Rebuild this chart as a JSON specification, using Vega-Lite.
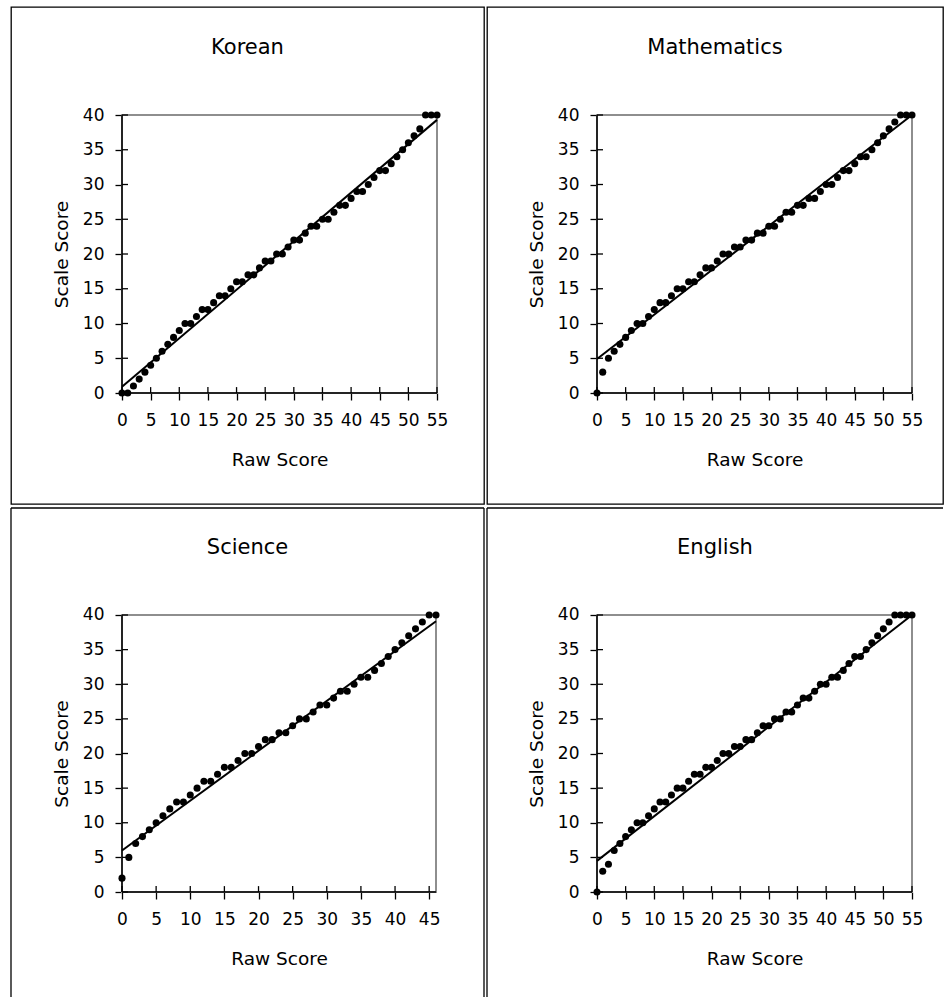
{
"$schema": "https://vega.github.io/schema/vega-lite/v6.json",
"padding": {"left": 10, "top": 6, "right": 8, "bottom": 0},
"bounds": "flush",
"columns": 2,
"spacing": {"row": 4, "column": 3},
"datasets": {
"pts": [
{"subject":"Korean","raw":0,"scale":0},{"subject":"Korean","raw":1,"scale":0},{"subject":"Korean","raw":2,"scale":1},{"subject":"Korean","raw":3,"scale":2},{"subject":"Korean","raw":4,"scale":3},{"subject":"Korean","raw":5,"scale":4},{"subject":"Korean","raw":6,"scale":5},{"subject":"Korean","raw":7,"scale":6},{"subject":"Korean","raw":8,"scale":7},{"subject":"Korean","raw":9,"scale":8},{"subject":"Korean","raw":10,"scale":9},{"subject":"Korean","raw":11,"scale":10},{"subject":"Korean","raw":12,"scale":10},{"subject":"Korean","raw":13,"scale":11},{"subject":"Korean","raw":14,"scale":12},{"subject":"Korean","raw":15,"scale":12},{"subject":"Korean","raw":16,"scale":13},{"subject":"Korean","raw":17,"scale":14},{"subject":"Korean","raw":18,"scale":14},{"subject":"Korean","raw":19,"scale":15},{"subject":"Korean","raw":20,"scale":16},{"subject":"Korean","raw":21,"scale":16},{"subject":"Korean","raw":22,"scale":17},{"subject":"Korean","raw":23,"scale":17},{"subject":"Korean","raw":24,"scale":18},{"subject":"Korean","raw":25,"scale":19},{"subject":"Korean","raw":26,"scale":19},{"subject":"Korean","raw":27,"scale":20},{"subject":"Korean","raw":28,"scale":20},{"subject":"Korean","raw":29,"scale":21},{"subject":"Korean","raw":30,"scale":22},{"subject":"Korean","raw":31,"scale":22},{"subject":"Korean","raw":32,"scale":23},{"subject":"Korean","raw":33,"scale":24},{"subject":"Korean","raw":34,"scale":24},{"subject":"Korean","raw":35,"scale":25},{"subject":"Korean","raw":36,"scale":25},{"subject":"Korean","raw":37,"scale":26},{"subject":"Korean","raw":38,"scale":27},{"subject":"Korean","raw":39,"scale":27},{"subject":"Korean","raw":40,"scale":28},{"subject":"Korean","raw":41,"scale":29},{"subject":"Korean","raw":42,"scale":29},{"subject":"Korean","raw":43,"scale":30},{"subject":"Korean","raw":44,"scale":31},{"subject":"Korean","raw":45,"scale":32},{"subject":"Korean","raw":46,"scale":32},{"subject":"Korean","raw":47,"scale":33},{"subject":"Korean","raw":48,"scale":34},{"subject":"Korean","raw":49,"scale":35},{"subject":"Korean","raw":50,"scale":36},{"subject":"Korean","raw":51,"scale":37},{"subject":"Korean","raw":52,"scale":38},{"subject":"Korean","raw":53,"scale":40},{"subject":"Korean","raw":54,"scale":40},{"subject":"Korean","raw":55,"scale":40},
{"subject":"Mathematics","raw":0,"scale":0},{"subject":"Mathematics","raw":1,"scale":3},{"subject":"Mathematics","raw":2,"scale":5},{"subject":"Mathematics","raw":3,"scale":6},{"subject":"Mathematics","raw":4,"scale":7},{"subject":"Mathematics","raw":5,"scale":8},{"subject":"Mathematics","raw":6,"scale":9},{"subject":"Mathematics","raw":7,"scale":10},{"subject":"Mathematics","raw":8,"scale":10},{"subject":"Mathematics","raw":9,"scale":11},{"subject":"Mathematics","raw":10,"scale":12},{"subject":"Mathematics","raw":11,"scale":13},{"subject":"Mathematics","raw":12,"scale":13},{"subject":"Mathematics","raw":13,"scale":14},{"subject":"Mathematics","raw":14,"scale":15},{"subject":"Mathematics","raw":15,"scale":15},{"subject":"Mathematics","raw":16,"scale":16},{"subject":"Mathematics","raw":17,"scale":16},{"subject":"Mathematics","raw":18,"scale":17},{"subject":"Mathematics","raw":19,"scale":18},{"subject":"Mathematics","raw":20,"scale":18},{"subject":"Mathematics","raw":21,"scale":19},{"subject":"Mathematics","raw":22,"scale":20},{"subject":"Mathematics","raw":23,"scale":20},{"subject":"Mathematics","raw":24,"scale":21},{"subject":"Mathematics","raw":25,"scale":21},{"subject":"Mathematics","raw":26,"scale":22},{"subject":"Mathematics","raw":27,"scale":22},{"subject":"Mathematics","raw":28,"scale":23},{"subject":"Mathematics","raw":29,"scale":23},{"subject":"Mathematics","raw":30,"scale":24},{"subject":"Mathematics","raw":31,"scale":24},{"subject":"Mathematics","raw":32,"scale":25},{"subject":"Mathematics","raw":33,"scale":26},{"subject":"Mathematics","raw":34,"scale":26},{"subject":"Mathematics","raw":35,"scale":27},{"subject":"Mathematics","raw":36,"scale":27},{"subject":"Mathematics","raw":37,"scale":28},{"subject":"Mathematics","raw":38,"scale":28},{"subject":"Mathematics","raw":39,"scale":29},{"subject":"Mathematics","raw":40,"scale":30},{"subject":"Mathematics","raw":41,"scale":30},{"subject":"Mathematics","raw":42,"scale":31},{"subject":"Mathematics","raw":43,"scale":32},{"subject":"Mathematics","raw":44,"scale":32},{"subject":"Mathematics","raw":45,"scale":33},{"subject":"Mathematics","raw":46,"scale":34},{"subject":"Mathematics","raw":47,"scale":34},{"subject":"Mathematics","raw":48,"scale":35},{"subject":"Mathematics","raw":49,"scale":36},{"subject":"Mathematics","raw":50,"scale":37},{"subject":"Mathematics","raw":51,"scale":38},{"subject":"Mathematics","raw":52,"scale":39},{"subject":"Mathematics","raw":53,"scale":40},{"subject":"Mathematics","raw":54,"scale":40},{"subject":"Mathematics","raw":55,"scale":40},
{"subject":"Science","raw":0,"scale":2},{"subject":"Science","raw":1,"scale":5},{"subject":"Science","raw":2,"scale":7},{"subject":"Science","raw":3,"scale":8},{"subject":"Science","raw":4,"scale":9},{"subject":"Science","raw":5,"scale":10},{"subject":"Science","raw":6,"scale":11},{"subject":"Science","raw":7,"scale":12},{"subject":"Science","raw":8,"scale":13},{"subject":"Science","raw":9,"scale":13},{"subject":"Science","raw":10,"scale":14},{"subject":"Science","raw":11,"scale":15},{"subject":"Science","raw":12,"scale":16},{"subject":"Science","raw":13,"scale":16},{"subject":"Science","raw":14,"scale":17},{"subject":"Science","raw":15,"scale":18},{"subject":"Science","raw":16,"scale":18},{"subject":"Science","raw":17,"scale":19},{"subject":"Science","raw":18,"scale":20},{"subject":"Science","raw":19,"scale":20},{"subject":"Science","raw":20,"scale":21},{"subject":"Science","raw":21,"scale":22},{"subject":"Science","raw":22,"scale":22},{"subject":"Science","raw":23,"scale":23},{"subject":"Science","raw":24,"scale":23},{"subject":"Science","raw":25,"scale":24},{"subject":"Science","raw":26,"scale":25},{"subject":"Science","raw":27,"scale":25},{"subject":"Science","raw":28,"scale":26},{"subject":"Science","raw":29,"scale":27},{"subject":"Science","raw":30,"scale":27},{"subject":"Science","raw":31,"scale":28},{"subject":"Science","raw":32,"scale":29},{"subject":"Science","raw":33,"scale":29},{"subject":"Science","raw":34,"scale":30},{"subject":"Science","raw":35,"scale":31},{"subject":"Science","raw":36,"scale":31},{"subject":"Science","raw":37,"scale":32},{"subject":"Science","raw":38,"scale":33},{"subject":"Science","raw":39,"scale":34},{"subject":"Science","raw":40,"scale":35},{"subject":"Science","raw":41,"scale":36},{"subject":"Science","raw":42,"scale":37},{"subject":"Science","raw":43,"scale":38},{"subject":"Science","raw":44,"scale":39},{"subject":"Science","raw":45,"scale":40},{"subject":"Science","raw":46,"scale":40},
{"subject":"English","raw":0,"scale":0},{"subject":"English","raw":1,"scale":3},{"subject":"English","raw":2,"scale":4},{"subject":"English","raw":3,"scale":6},{"subject":"English","raw":4,"scale":7},{"subject":"English","raw":5,"scale":8},{"subject":"English","raw":6,"scale":9},{"subject":"English","raw":7,"scale":10},{"subject":"English","raw":8,"scale":10},{"subject":"English","raw":9,"scale":11},{"subject":"English","raw":10,"scale":12},{"subject":"English","raw":11,"scale":13},{"subject":"English","raw":12,"scale":13},{"subject":"English","raw":13,"scale":14},{"subject":"English","raw":14,"scale":15},{"subject":"English","raw":15,"scale":15},{"subject":"English","raw":16,"scale":16},{"subject":"English","raw":17,"scale":17},{"subject":"English","raw":18,"scale":17},{"subject":"English","raw":19,"scale":18},{"subject":"English","raw":20,"scale":18},{"subject":"English","raw":21,"scale":19},{"subject":"English","raw":22,"scale":20},{"subject":"English","raw":23,"scale":20},{"subject":"English","raw":24,"scale":21},{"subject":"English","raw":25,"scale":21},{"subject":"English","raw":26,"scale":22},{"subject":"English","raw":27,"scale":22},{"subject":"English","raw":28,"scale":23},{"subject":"English","raw":29,"scale":24},{"subject":"English","raw":30,"scale":24},{"subject":"English","raw":31,"scale":25},{"subject":"English","raw":32,"scale":25},{"subject":"English","raw":33,"scale":26},{"subject":"English","raw":34,"scale":26},{"subject":"English","raw":35,"scale":27},{"subject":"English","raw":36,"scale":28},{"subject":"English","raw":37,"scale":28},{"subject":"English","raw":38,"scale":29},{"subject":"English","raw":39,"scale":30},{"subject":"English","raw":40,"scale":30},{"subject":"English","raw":41,"scale":31},{"subject":"English","raw":42,"scale":31},{"subject":"English","raw":43,"scale":32},{"subject":"English","raw":44,"scale":33},{"subject":"English","raw":45,"scale":34},{"subject":"English","raw":46,"scale":34},{"subject":"English","raw":47,"scale":35},{"subject":"English","raw":48,"scale":36},{"subject":"English","raw":49,"scale":37},{"subject":"English","raw":50,"scale":38},{"subject":"English","raw":51,"scale":39},{"subject":"English","raw":52,"scale":40},{"subject":"English","raw":53,"scale":40},{"subject":"English","raw":54,"scale":40},{"subject":"English","raw":55,"scale":40}
],
"fit": [
{"subject":"Korean","raw":0,"scale":0.9},{"subject":"Korean","raw":55,"scale":39.3},
{"subject":"Mathematics","raw":0,"scale":4.9},{"subject":"Mathematics","raw":55,"scale":40},
{"subject":"Science","raw":0,"scale":6.0},{"subject":"Science","raw":46,"scale":39.1},
{"subject":"English","raw":0,"scale":4.5},{"subject":"English","raw":55,"scale":40}
],
"xt55": [{"t":0},{"t":5},{"t":10},{"t":15},{"t":20},{"t":25},{"t":30},{"t":35},{"t":40},{"t":45},{"t":50},{"t":55}],
"xt46": [{"t":0},{"t":5},{"t":10},{"t":15},{"t":20},{"t":25},{"t":30},{"t":35},{"t":40},{"t":45}],
"yt": [{"t":0},{"t":5},{"t":10},{"t":15},{"t":20},{"t":25},{"t":30},{"t":35},{"t":40}]
},
"concat": [
{"width": 473, "height": 497,
 "title": {"text": "Korean"},
 "encoding": {
  "x": {"type": "quantitative", "scale": {"domain": [-19.381, 63.206], "nice": false, "zero": false}, "axis": {"title": "Raw Score", "values": [0,5,10,15,20,25,30,35,40,45,50,55], "offset": -111, "titleX": 268.5, "titleY": 72}},
  "y": {"type": "quantitative", "scale": {"domain": [-15.971, 55.540], "nice": false, "zero": false}, "axis": {"title": "Scale Score", "values": [0,5,10,15,20,25,30,35,40], "offset": -111, "titleX": -55, "titleY": 247}}
 },
 "layer": [
  {"data": {"values": [{}]}, "mark": {"type": "rect", "filled": false, "color": "#8e8e8e", "strokeWidth": 2},
   "encoding": {"x": {"datum": 0}, "x2": {"datum": 55}, "y": {"datum": 0}, "y2": {"datum": 40}}},
  {"data": {"name": "xt55"}, "mark": {"type": "rule", "color": "black", "strokeWidth": 1.3},
   "encoding": {"x": {"field": "t"}, "y": {"datum": 0}, "y2": {"datum": 0.85}}},
  {"data": {"name": "yt"}, "mark": {"type": "rule", "color": "black", "strokeWidth": 1.3},
   "encoding": {"y": {"field": "t"}, "x": {"datum": 0}, "x2": {"datum": 1.05}}},
  {"data": {"values": [{}]}, "mark": {"type": "rule", "color": "black", "strokeWidth": 1.5},
   "encoding": {"x": {"datum": 0}, "y": {"datum": 0}, "y2": {"datum": 40}}},
  {"data": {"values": [{}]}, "mark": {"type": "rule", "color": "black", "strokeWidth": 1.5},
   "encoding": {"x": {"datum": 0}, "x2": {"datum": 55}, "y": {"datum": 0}}},
  {"data": {"name": "fit"}, "transform": [{"filter": "datum.subject === 'Korean'"}],
   "mark": {"type": "line", "color": "black", "strokeWidth": 2},
   "encoding": {"x": {"field": "raw"}, "y": {"field": "scale"}}},
  {"data": {"name": "pts"}, "transform": [{"filter": "datum.subject === 'Korean'"}],
   "mark": {"type": "circle", "color": "black", "size": 50, "opacity": 1},
   "encoding": {"x": {"field": "raw"}, "y": {"field": "scale"}}}
 ]},
{"width": 456, "height": 497,
 "title": {"text": "Mathematics"},
 "encoding": {
  "x": {"type": "quantitative", "scale": {"domain": [-19.206, 60.413], "nice": false, "zero": false}, "axis": {"title": "Raw Score", "values": [0,5,10,15,20,25,30,35,40,45,50,55], "offset": -111, "titleX": 267.5, "titleY": 72}},
  "y": {"type": "quantitative", "scale": {"domain": [-15.971, 55.540], "nice": false, "zero": false}, "axis": {"title": "Scale Score", "values": [0,5,10,15,20,25,30,35,40], "offset": -110, "titleX": -55, "titleY": 247}}
 },
 "layer": [
  {"data": {"values": [{}]}, "mark": {"type": "rect", "filled": false, "color": "#8e8e8e", "strokeWidth": 2},
   "encoding": {"x": {"datum": 0}, "x2": {"datum": 55}, "y": {"datum": 0}, "y2": {"datum": 40}}},
  {"data": {"name": "xt55"}, "mark": {"type": "rule", "color": "black", "strokeWidth": 1.3},
   "encoding": {"x": {"field": "t"}, "y": {"datum": 0}, "y2": {"datum": 0.85}}},
  {"data": {"name": "yt"}, "mark": {"type": "rule", "color": "black", "strokeWidth": 1.3},
   "encoding": {"y": {"field": "t"}, "x": {"datum": 0}, "x2": {"datum": 1.05}}},
  {"data": {"values": [{}]}, "mark": {"type": "rule", "color": "black", "strokeWidth": 1.5},
   "encoding": {"x": {"datum": 0}, "y": {"datum": 0}, "y2": {"datum": 40}}},
  {"data": {"values": [{}]}, "mark": {"type": "rule", "color": "black", "strokeWidth": 1.5},
   "encoding": {"x": {"datum": 0}, "x2": {"datum": 55}, "y": {"datum": 0}}},
  {"data": {"name": "fit"}, "transform": [{"filter": "datum.subject === 'Mathematics'"}],
   "mark": {"type": "line", "color": "black", "strokeWidth": 2},
   "encoding": {"x": {"field": "raw"}, "y": {"field": "scale"}}},
  {"data": {"name": "pts"}, "transform": [{"filter": "datum.subject === 'Mathematics'"}],
   "mark": {"type": "circle", "color": "black", "size": 50, "opacity": 1},
   "encoding": {"x": {"field": "raw"}, "y": {"field": "scale"}}}
 ]},
{"width": 473, "height": 489,
 "view": {"stroke": null},
 "title": {"text": "Science"},
 "encoding": {
  "x": {"type": "quantitative", "scale": {"domain": [-16.261, 53.032], "nice": false, "zero": false}, "axis": {"title": "Raw Score", "values": [0,5,10,15,20,25,30,35,40,45], "offset": -105, "titleX": 268, "titleY": 72}},
  "y": {"type": "quantitative", "scale": {"domain": [-15.162, 55.451], "nice": false, "zero": false}, "axis": {"title": "Scale Score", "values": [0,5,10,15,20,25,30,35,40], "offset": -111, "titleX": -55, "titleY": 245.5}}
 },
 "layer": [
  {"data": {"values": [{}]}, "mark": {"type": "rule", "color": "black", "strokeWidth": 1.3},
   "encoding": {"x": {"datum": -16.261}, "y": {"datum": -15.162}, "y2": {"datum": 55.451}}},
  {"data": {"values": [{}]}, "mark": {"type": "rule", "color": "black", "strokeWidth": 1.3},
   "encoding": {"x": {"datum": 53.032}, "y": {"datum": -15.162}, "y2": {"datum": 55.451}}},
  {"data": {"values": [{}]}, "mark": {"type": "rule", "color": "black", "strokeWidth": 1.3},
   "encoding": {"x": {"datum": -16.261}, "x2": {"datum": 53.032}, "y": {"datum": 55.451}}},
  {"data": {"values": [{}]}, "mark": {"type": "rect", "filled": false, "color": "#8e8e8e", "strokeWidth": 2},
   "encoding": {"x": {"datum": 0}, "x2": {"datum": 46}, "y": {"datum": 0}, "y2": {"datum": 40}}},
  {"data": {"name": "xt46"}, "mark": {"type": "rule", "color": "black", "strokeWidth": 1.3},
   "encoding": {"x": {"field": "t"}, "y": {"datum": 0}, "y2": {"datum": 0.85}}},
  {"data": {"name": "yt"}, "mark": {"type": "rule", "color": "black", "strokeWidth": 1.3},
   "encoding": {"y": {"field": "t"}, "x": {"datum": 0}, "x2": {"datum": 0.88}}},
  {"data": {"values": [{}]}, "mark": {"type": "rule", "color": "black", "strokeWidth": 1.5},
   "encoding": {"x": {"datum": 0}, "y": {"datum": 0}, "y2": {"datum": 40}}},
  {"data": {"values": [{}]}, "mark": {"type": "rule", "color": "black", "strokeWidth": 1.5},
   "encoding": {"x": {"datum": 0}, "x2": {"datum": 46}, "y": {"datum": 0}}},
  {"data": {"name": "fit"}, "transform": [{"filter": "datum.subject === 'Science'"}],
   "mark": {"type": "line", "color": "black", "strokeWidth": 2},
   "encoding": {"x": {"field": "raw"}, "y": {"field": "scale"}}},
  {"data": {"name": "pts"}, "transform": [{"filter": "datum.subject === 'Science'"}],
   "mark": {"type": "circle", "color": "black", "size": 50, "opacity": 1},
   "encoding": {"x": {"field": "raw"}, "y": {"field": "scale"}}}
 ]},
{"width": 456, "height": 489,
 "view": {"stroke": null},
 "title": {"text": "English"},
 "encoding": {
  "x": {"type": "quantitative", "scale": {"domain": [-19.206, 60.413], "nice": false, "zero": false}, "axis": {"title": "Raw Score", "values": [0,5,10,15,20,25,30,35,40,45,50,55], "offset": -105, "titleX": 267.5, "titleY": 72}},
  "y": {"type": "quantitative", "scale": {"domain": [-15.162, 55.451], "nice": false, "zero": false}, "axis": {"title": "Scale Score", "values": [0,5,10,15,20,25,30,35,40], "offset": -110, "titleX": -55, "titleY": 245.5}}
 },
 "layer": [
  {"data": {"values": [{}]}, "mark": {"type": "rule", "color": "black", "strokeWidth": 1.3},
   "encoding": {"x": {"datum": -19.206}, "y": {"datum": -15.162}, "y2": {"datum": 55.451}}},
  {"data": {"values": [{}]}, "mark": {"type": "rule", "color": "black", "strokeWidth": 1.3},
   "encoding": {"x": {"datum": -19.206}, "x2": {"datum": 60.413}, "y": {"datum": 55.451}}},
  {"data": {"values": [{}]}, "mark": {"type": "rect", "filled": false, "color": "#8e8e8e", "strokeWidth": 2},
   "encoding": {"x": {"datum": 0}, "x2": {"datum": 55}, "y": {"datum": 0}, "y2": {"datum": 40}}},
  {"data": {"name": "xt55"}, "mark": {"type": "rule", "color": "black", "strokeWidth": 1.3},
   "encoding": {"x": {"field": "t"}, "y": {"datum": 0}, "y2": {"datum": 0.85}}},
  {"data": {"name": "yt"}, "mark": {"type": "rule", "color": "black", "strokeWidth": 1.3},
   "encoding": {"y": {"field": "t"}, "x": {"datum": 0}, "x2": {"datum": 1.05}}},
  {"data": {"values": [{}]}, "mark": {"type": "rule", "color": "black", "strokeWidth": 1.5},
   "encoding": {"x": {"datum": 0}, "y": {"datum": 0}, "y2": {"datum": 40}}},
  {"data": {"values": [{}]}, "mark": {"type": "rule", "color": "black", "strokeWidth": 1.5},
   "encoding": {"x": {"datum": 0}, "x2": {"datum": 55}, "y": {"datum": 0}}},
  {"data": {"name": "fit"}, "transform": [{"filter": "datum.subject === 'English'"}],
   "mark": {"type": "line", "color": "black", "strokeWidth": 2},
   "encoding": {"x": {"field": "raw"}, "y": {"field": "scale"}}},
  {"data": {"name": "pts"}, "transform": [{"filter": "datum.subject === 'English'"}],
   "mark": {"type": "circle", "color": "black", "size": 50, "opacity": 1},
   "encoding": {"x": {"field": "raw"}, "y": {"field": "scale"}}}
 ]}
],
"config": {
 "view": {"stroke": "black", "strokeWidth": 1.3},
 "font": "DejaVu Sans",
 "axis": {"domain": false, "grid": false, "ticks": true, "tickColor": "black", "tickSize": 7, "tickWidth": 1.3, "labelFont": "DejaVu Sans", "labelFontSize": 17, "labelColor": "black", "titleFont": "DejaVu Sans", "titleFontSize": 18.5, "titleFontWeight": "normal", "titleColor": "black", "titleBaseline": "alphabetic", "labelFlush": false, "labelOverlap": false},
 "axisX": {"labelPadding": 12},
 "axisY": {"labelPadding": 11},
 "title": {"font": "DejaVu Sans", "fontSize": 21, "fontWeight": "normal", "color": "black", "anchor": "middle", "frame": "group", "baseline": "alphabetic", "offset": -51}
}
}
